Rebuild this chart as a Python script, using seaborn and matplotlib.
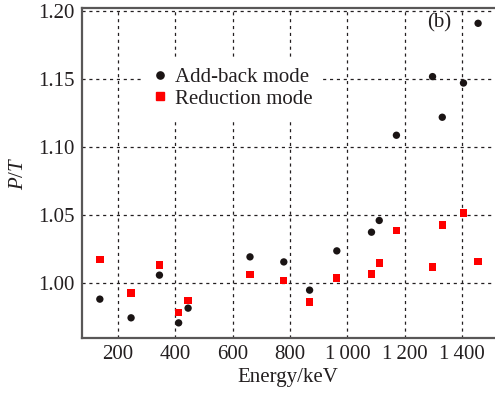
import matplotlib
matplotlib.use("Agg")
import matplotlib.pyplot as plt
import matplotlib.ticker as mticker
import seaborn as sns
import pandas as pd

energy = [136, 245, 344, 411, 444, 660, 778, 868, 963, 1084, 1111, 1171, 1297, 1331, 1405, 1456]
addback = [0.9885, 0.9748, 1.0061, 0.9711, 0.9819, 1.0195, 1.0158, 0.9951, 1.0239,
           1.0376, 1.0462, 1.1087, 1.1517, 1.1219, 1.1470, 1.1908]
reduction = [1.0178, 0.9929, 1.0136, 0.9787, 0.9873, 1.0066, 1.0024, 0.9865, 1.0039,
             1.0070, 1.0151, 1.0388, 1.0120, 1.0430, 1.0518, 1.0161]
x_ticks = [200, 400, 600, 800, 1000, 1200, 1400]
x_tick_labels = ["200", "400", "600", "800", "1\u2009000", "1\u2009200", "1\u2009400"]
y_ticks = [1.00, 1.05, 1.10, 1.15, 1.20]
mode_names = ["Add-back mode", "Reduction mode"]

df = pd.DataFrame({
    "Energy": energy * 2,
    "PT": addback + reduction,
    "mode": [mode_names[0]] * len(energy) + [mode_names[1]] * len(energy),
})

sns.set_theme(style="white")
plt.rcParams["font.family"] = ["Liberation Serif", "DejaVu Serif"]
plt.rcParams["mathtext.fontset"] = "custom"
plt.rcParams["mathtext.it"] = "Liberation Serif:italic"
plt.rcParams["mathtext.rm"] = "Liberation Serif"

FS = 15
INK = "#231f20"

fig = plt.figure(figsize=(4.95, 3.94), dpi=100)
ax = fig.add_axes([81.5 / 495, 1 - 338 / 394, 1 - 81.5 / 495, (338 - 8.3) / 394])

sns.scatterplot(
    data=df, x="Energy", y="PT", hue="mode", style="mode",
    palette={mode_names[0]: "#1a1414", mode_names[1]: "#ff0000"},
    markers={mode_names[0]: "o", mode_names[1]: "s"},
    s=28, linewidth=0, ax=ax, legend=False, zorder=3,
)

ax.set_xlim(72, 1515)
ax.set_ylim(0.96, 1.2018)
ax.set_xticks(x_ticks)
ax.set_xticklabels(x_tick_labels)
ax.set_yticks(y_ticks)
ax.yaxis.set_major_formatter(mticker.FormatStrFormatter("%.2f"))
ax.tick_params(axis="both", length=0, labelsize=FS, colors=INK, pad=5)

ax.grid(True, linestyle=(0, (2.5, 3)), color=INK, linewidth=0.9)
for side in ["left", "bottom", "top"]:
    ax.spines[side].set_visible(True)
    ax.spines[side].set_color("#595757")
    ax.spines[side].set_linewidth(1.6)
ax.spines["right"].set_visible(False)

ax.set_xlabel("Energy/keV", fontsize=FS, color=INK, labelpad=3)
ax.set_ylabel("$P/T$", fontsize=FS, color=INK, labelpad=7)

# legend on an opaque white box that hides the grid behind it
leg_handles = [
    plt.Line2D([], [], linestyle="none", marker="o", markersize=5.2, color="#1a1414"),
    plt.Line2D([], [], linestyle="none", marker="s", markersize=5.4, color="#ff0000"),
]
leg = ax.legend(leg_handles, mode_names, loc="upper left", bbox_to_anchor=(0.149, 0.852),
                frameon=True, fancybox=False, facecolor="white", edgecolor="none",
                framealpha=1, fontsize=FS, handlelength=0.6, handletextpad=0.45,
                labelspacing=0.1, borderpad=0.5, borderaxespad=0, labelcolor=INK)

ax.text(0.835, 0.955, "(b)", transform=ax.transAxes, fontsize=FS,
        color=INK, ha="left", va="center")

fig.savefig("out.png", dpi=100)
